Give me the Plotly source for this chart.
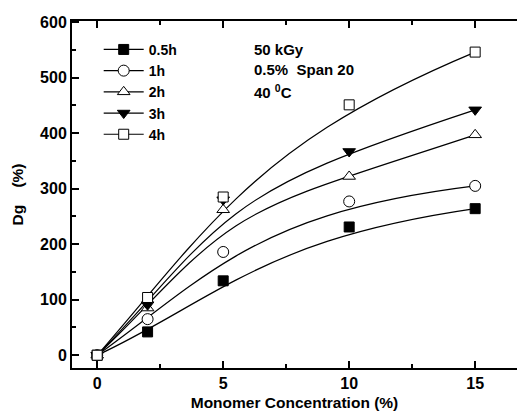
import plotly.graph_objects as go

# ---- data ----
monomer_conc = [0, 2, 5, 10, 15]
dg_05h = [0, 42, 134, 231, 264]
dg_1h = [0, 65, 186, 277, 305]
dg_2h = [0, 85, 262, 322, 397]
dg_3h = [0, 91, 280, 367, 442]
dg_4h = [0, 104, 285, 451, 546]
series_names = ["0.5h", "1h", "2h", "3h", "4h"]
x_ticks = [0, 5, 10, 15]
y_ticks = [0, 100, 200, 300, 400, 500, 600]

FONT = "Liberation Sans"

styles = {
    "0.5h": dict(symbol="square", size=10, color="black"),
    "1h": dict(symbol="circle", size=11, color="white"),
    "2h": dict(symbol="triangle-up", size=11, color="white"),
    "3h": dict(symbol="triangle-down", size=11, color="black"),
    "4h": dict(symbol="square", size=10, color="white"),
}
all_series = [dg_05h, dg_1h, dg_2h, dg_3h, dg_4h]


def bspline_path(xs, ys):
    """Clamped cubic B-spline (Origin style) of the data points written as
    two Bezier segments; plotly draws it in data coordinates."""
    P = list(zip(xs, ys))
    mid = lambda a, b: ((a[0] + b[0]) / 2, (a[1] + b[1]) / 2)
    q2 = mid(P[1], P[2])
    q3 = mid(P[2], P[3])
    r3 = mid(q2, q3)
    f = lambda p: f"{p[0]},{p[1]}"
    return (f"M {f(P[0])} C {f(P[1])} {f(q2)} {f(r3)} "
            f"C {f(q3)} {f(P[3])} {f(P[4])}")


fig = go.Figure()
shapes = []
for name, ys in zip(series_names, all_series):
    st = styles[name]
    shapes.append(dict(type="path", path=bspline_path(monomer_conc, ys),
                       xref="x", yref="y", layer="below",
                       line=dict(color="black", width=1.2)))
    # legend entry (line + marker)
    fig.add_trace(go.Scatter(
        x=[None], y=[None], mode="lines+markers", name=name,
        line=dict(color="black", width=1.2),
        marker=dict(symbol=st["symbol"], size=st["size"], color=st["color"],
                    line=dict(color="black", width=1)),
    ))
for name, ys in zip(series_names, all_series):
    st = styles[name]
    fig.add_trace(go.Scatter(
        x=monomer_conc, y=ys, mode="markers", name=name, showlegend=False,
        marker=dict(symbol=st["symbol"], size=st["size"], color=st["color"],
                    line=dict(color="black", width=1)),
    ))

ann_font = dict(family=FONT, size=15, color="black", weight=700)
annotations = [
    dict(text="50 kGy", x=0.404, y=0.919),
    dict(text="0.5%\u00a0 Span 20", x=0.404, y=0.859),
    dict(text="40 <sup>0</sup>C", x=0.404, y=0.798),
]
for a in annotations:
    a.update(xref="paper", yref="paper", xanchor="left", yanchor="middle",
             showarrow=False, font=ann_font)

fig.update_layout(
    width=517, height=415,
    margin=dict(l=72, r=0, t=21, b=47),
    paper_bgcolor="white", plot_bgcolor="white",
    shapes=shapes, annotations=annotations,
    showlegend=True,
    legend=dict(x=0.06, y=0.963, xanchor="left", yanchor="top",
                bgcolor="rgba(0,0,0,0)", borderwidth=0, itemwidth=40,
                font=dict(family=FONT, size=14, color="black", weight=700),
                tracegroupgap=0),
    font=dict(family=FONT, color="black"),
)
fig.update_xaxes(
    range=[-1, 16.66], showgrid=False, zeroline=False,
    showline=True, linecolor="black", linewidth=2, mirror="ticks",
    ticks="inside", ticklen=7, tickwidth=1.5, tickcolor="black",
    tickvals=x_ticks, ticktext=[str(v) for v in x_ticks],
    tickfont=dict(family=FONT, size=16, color="black", weight=700),
    minor=dict(dtick=2.5, tick0=0, ticks="inside", ticklen=4,
               tickwidth=1.5, tickcolor="black", showgrid=False),
    title=dict(text="Monomer Concentration (%)", standoff=6,
               font=dict(family=FONT, size=15.5, color="black", weight=700)),
)
fig.update_yaxes(
    range=[-23, 602], showgrid=False, zeroline=False,
    showline=True, linecolor="black", linewidth=2, mirror=False,
    ticks="inside", ticklen=7, tickwidth=1.5, tickcolor="black",
    tickvals=y_ticks, ticktext=[str(v) for v in y_ticks],
    tickfont=dict(family=FONT, size=16, color="black", weight=700),
    minor=dict(dtick=50, tick0=0, ticks="inside", ticklen=4,
               tickwidth=1.5, tickcolor="black", showgrid=False),
    title=dict(text="Dg\u00a0\u00a0\u00a0\u00a0(%)", standoff=13,
               font=dict(family=FONT, size=15.5, color="black", weight=700)),
)

fig.write_html("out.html")
